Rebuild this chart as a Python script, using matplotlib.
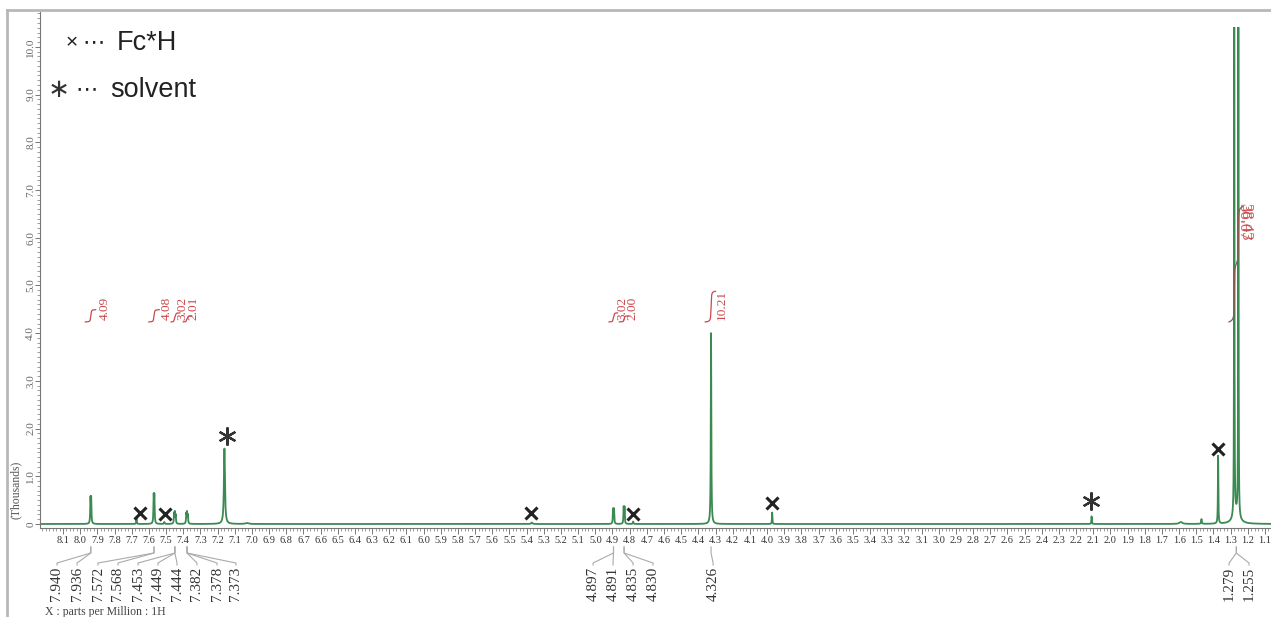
import numpy as np
import matplotlib
matplotlib.use('Agg')
import matplotlib.pyplot as plt
from matplotlib.lines import Line2D
from matplotlib.patches import Rectangle
from matplotlib.ticker import MultipleLocator, FixedLocator, FuncFormatter
from matplotlib.transforms import blended_transform_factory

plt.rcParams['font.family'] = ['Liberation Serif', 'DejaVu Serif']

W, H = 1271, 617
GREEN = '#3a8a52'
RED = '#c9484b'

# ---- 1H spectrum, peak table (ppm, height in thousands, half-width in ppm) ----
peak_ppm = [7.940, 7.936, 7.672, 7.572, 7.568, 7.510, 7.453, 7.449, 7.444,
            7.382, 7.378, 7.373, 7.160, 7.030, 5.370, 4.897, 4.891, 4.835,
            4.830, 4.780, 4.326, 3.970, 2.110, 1.590, 1.470, 1.373, 1.279,
            1.255, 1.268]
peak_height = [0.50, 0.50, 0.13, 0.55, 0.55, 0.04, 0.20, 0.22, 0.18,
               0.20, 0.22, 0.18, 1.58, 0.02, 0.03, 0.31, 0.31, 0.34,
               0.34, 0.05, 4.00, 0.24, 0.16, 0.04, 0.10, 1.42, 16.0,
               16.0, 0.20]
peak_hwhm = [0.0018, 0.0018, 0.0015, 0.0018, 0.0018, 0.002, 0.0018, 0.0018, 0.0018,
             0.0018, 0.0018, 0.0018, 0.0035, 0.01, 0.004, 0.0016, 0.0016, 0.0016,
             0.0016, 0.002, 0.0018, 0.0015, 0.0015, 0.01, 0.002, 0.0015, 0.0010,
             0.0010, 0.02]

# chemical shifts printed under the axis, one list per multiplet
shift_groups = [[7.940, 7.936], [7.572, 7.568], [7.453, 7.449, 7.444],
                [7.382, 7.378, 7.373], [4.897, 4.891], [4.835, 4.830],
                [4.326], [1.279, 1.255]]
shift_label_ppm = [[8.135, 8.018], [7.896, 7.780], [7.663, 7.547, 7.436],
                   [7.320, 7.203, 7.093], [5.013, 4.897], [4.780, 4.664],
                   [4.314], [1.309, 1.193]]

# integrals: region (from, to) in ppm, printed values
integral_from = [7.97, 7.60, 7.47, 7.40, 4.92, 4.86, 4.36, 1.31]
integral_to = [7.91, 7.54, 7.42, 7.35, 4.87, 4.81, 4.30, 1.23]
integral_value = [4.09, 4.08, 3.02, 2.01, 3.02, 2.00, 10.21, 38.43]
integral_text_ppm = [7.856, 7.494, 7.407, 7.343, 4.844, 4.786, 4.262, 1.225]
big_extra_text = '36.07'

# peak assignments marked on the trace
fc_ppm = [7.652, 7.506, 5.374, 4.780, 3.971, 1.373]
fc_y = [0.23, 0.21, 0.23, 0.21, 0.44, 1.57]
solv_ppm = [7.145, 2.113]
solv_y = [1.84, 0.48]

# ---- build trace ----
ppm = np.linspace(8.25, 1.05, 72001)
spec = np.zeros_like(ppm)
for p, h, w in zip(peak_ppm, peak_height, peak_hwhm):
    spec += h / (1 + ((ppm - p) / w) ** 2)

fig = plt.figure(figsize=(W / 100, H / 100), dpi=100)
ax = fig.add_axes([40 / W, 1 - 528 / H, 1 - 40 / W, (528 - 12) / H])
ax.set_xlim(8.234, 1.065)
ax.set_ylim(-0.084, 10.73)

ln, = ax.plot(ppm, spec, color=GREEN, lw=1.3)
ln.set_clip_path(Rectangle((0, 0), 1, (528 - 27) / 516, transform=ax.transAxes))

for s in ['top', 'right']:
    ax.spines[s].set_visible(False)
for s in ['left', 'bottom']:
    ax.spines[s].set_color('#777777')
    ax.spines[s].set_linewidth(0.8)

ax.xaxis.set_major_locator(FixedLocator(np.round(np.arange(1.1, 8.15, 0.1), 1)))
ax.xaxis.set_minor_locator(MultipleLocator(0.02))
ax.xaxis.set_major_formatter(FuncFormatter(lambda v, _: f'{v:.1f}'))
ax.tick_params(axis='x', which='major', length=4, width=0.7, color='#777777',
               labelsize=7.4, labelcolor='#333333', pad=2)
ax.tick_params(axis='x', which='minor', length=2.2, width=0.5, color='#777777')

ax.yaxis.set_major_locator(FixedLocator(np.arange(0, 11, 1.0)))
ax.yaxis.set_minor_locator(MultipleLocator(0.1))
ax.yaxis.set_major_formatter(FuncFormatter(lambda v, _: '0' if v == 0 else f'{v:.1f}'))
ax.tick_params(axis='y', which='major', length=3.5, width=0.7, color='#777777',
               labelsize=8, labelcolor='#666666', pad=0, labelrotation=90)
ax.tick_params(axis='y', which='minor', length=2.2, width=0.5, color='#777777')
for t in ax.get_yticklabels():
    t.set_va('center')

fig.text(16 / W, 1 - 490 / H, '(Thousands)', rotation=90, ha='center', va='center',
         fontsize=8.5, color='#555555')
fig.text(45 / W, 1 - 606 / H, 'X : parts per Million : 1H', ha='left', va='top',
         fontsize=8.5, color='#444444')

# outer frame
fig.add_artist(Line2D([7 / W, 1], [1 - 10 / H, 1 - 10 / H], color='#b8b8b8', lw=2))
fig.add_artist(Line2D([7 / W, 7 / W], [0, 1 - 10 / H], color='#b8b8b8', lw=2))

# shift labels with leader lines
tr = blended_transform_factory(ax.transData, fig.transFigure)
fy = lambda py: 1 - py / H
for grp, lab_x in zip(shift_groups, shift_label_ppm):
    c = np.mean(grp)
    for val, lx in zip(grp, lab_x):
        ax.add_line(Line2D([c, c, lx, lx], [fy(547), fy(553), fy(563), fy(565)],
                           transform=tr, color='#aaaaaa', lw=0.8, clip_on=False))
        ax.text(lx, fy(567), f'{val:.3f}', transform=tr, rotation=90, ha='center',
                va='top', fontsize=11, color='#333333', clip_on=False)

# integrals
u = 3 / 47.7  # height of integral curve per unit, in thousands
base = (524 - 322) / 47.7
for a, b, v, tx in zip(integral_from, integral_to, integral_value, integral_text_ppm):
    m = (ppm <= a) & (ppm >= b)
    cs = np.cumsum(spec[m])
    cs = cs / cs[-1] * v * u
    big = v > 20
    ax.plot(ppm[m], base + cs, color='#8b5a4f' if big else RED, lw=0.9)
    if big:
        for lbl, off in [(big_extra_text, 0.0), (f'{v:.2f}', -0.012)]:
            ax.text(tx + off, (524 - 203) / 47.7, lbl, rotation=270, ha='center',
                    va='top', fontsize=12, color=RED, alpha=0.9)
    else:
        ax.text(tx, (524 - 320) / 47.7, f'{v:.2f}', rotation=90, ha='center',
                va='bottom', fontsize=9.5, color=RED)

# assignment markers
ax.plot(fc_ppm, fc_y, ls='none', marker='x', ms=9, mew=2.2, color='#222222')
ax.plot(solv_ppm, solv_y, ls='none', marker=(6, 2, 0), ms=13, mew=1.6, color='#333333')

# key in the upper left
sans = ['Liberation Sans', 'DejaVu Sans']
fig.text(72 / W, fy(43), '×', family=sans, fontsize=15, ha='center', va='center', color='#222222')
fig.text(94 / W, fy(43), '⋯', family=sans, fontsize=16, ha='center', va='center', color='#222222')
fig.text(117 / W, fy(43), 'Fc*H', family=sans, fontsize=19.5, ha='left', va='center', color='#222222')
fig.text(59 / W, fy(90), '∗', family=sans, fontsize=19, ha='center', va='center', color='#333333')
fig.text(87 / W, fy(90), '⋯', family=sans, fontsize=16, ha='center', va='center', color='#222222')
fig.text(110 / W, fy(90), 'solvent', family=sans, fontsize=19.5, ha='left', va='center', color='#222222')

fig.savefig('out.png', dpi=100)
